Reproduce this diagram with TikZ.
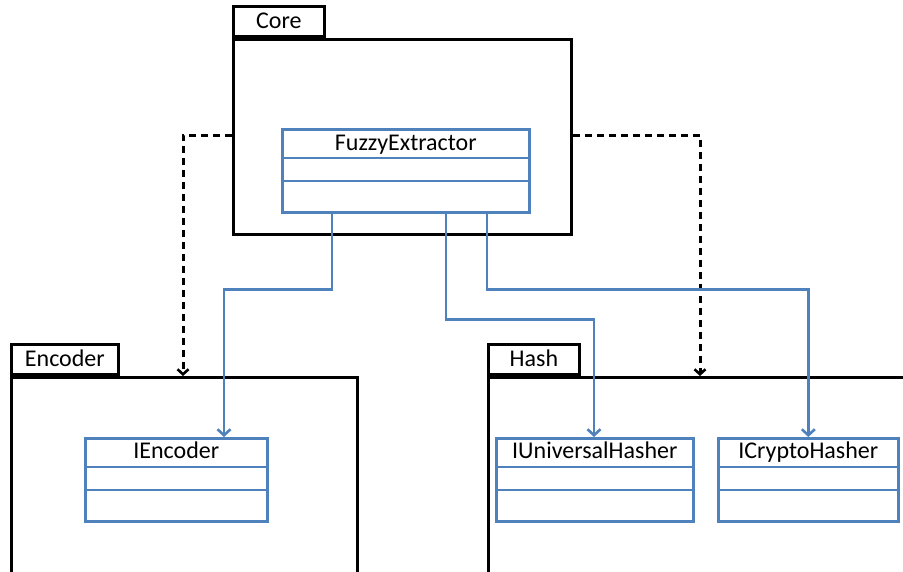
\documentclass[tikz,border=0pt]{standalone}
\usepackage{fontspec}
\setmainfont{Carlito}
\usetikzlibrary{arrows.meta,calc}
\definecolor{umlblue}{RGB}{79,129,189}
\tikzset{
	pkgtab/.style={draw=black, line width=2.8pt, anchor=south west, inner sep=0pt, minimum height=30pt, text height=17pt, text depth=4pt},
	pkgbody/.style={draw=black, line width=2.8pt, anchor=north west, inner sep=0pt},
	umlclass/.style={draw=umlblue, line width=2.6pt, fill=white, anchor=north west, inner sep=0pt, minimum height=83pt},
	classname/.style={anchor=base, inner sep=0pt},
	dep/.style={draw=black, line width=3pt, dash pattern=on 7pt off 5pt, -{Straight Barb[length=5pt,width=11pt,line width=2.6pt]}},
	assoc/.style={draw=umlblue, line width=2.8pt, -{Straight Barb[length=6pt,width=13pt,line width=2.6pt]}},
}
\newcommand{\compartments}[1]{
	\draw[umlblue, line width=2.6pt] ([yshift=-30pt]#1.north west) -- ([yshift=-30pt]#1.north east);
	\draw[umlblue, line width=2.6pt] ([yshift=-53pt]#1.north west) -- ([yshift=-53pt]#1.north east);
}
\begin{document}
\begin{tikzpicture}[x=1pt,y=-1pt]
	\fontsize{24}{28}\selectfont
	\useasboundingbox (0,0) rectangle (903,571);
	\clip (0,0) rectangle (903,571);
	% packages
	\node[pkgbody, minimum width=338pt, minimum height=195pt] (core) at (232,38) {};
	\node[pkgtab, minimum width=91pt] (coretab) at (core.north west) {Core};
	\node[pkgbody, minimum width=346pt, minimum height=230pt] (enc) at (10,376) {};
	\node[pkgtab, minimum width=107pt] (enctab) at (enc.north west) {Encoder};
	\node[pkgbody, minimum width=440pt, minimum height=230pt] (hash) at (487,376) {};
	\node[pkgtab, minimum width=91pt] (hashtab) at (hash.north west) {Hash};
	% classes
	\node[umlclass, minimum width=247pt] (fe) at (281,128) {};
	\node[classname] (fetxt) at ($(fe.north)+(0,-22pt)$) {FuzzyExtractor};
	\compartments{fe}
	\node[umlclass, minimum width=182pt] (ienc) at (84,437) {};
	\node[classname] (ienctxt) at ($(ienc.north)+(0,-21pt)$) {IEncoder};
	\compartments{ienc}
	\node[umlclass, minimum width=197pt] (iuh) at (495,437) {};
	\node[classname] (iuhtxt) at ($(iuh.north)+(0,-21pt)$) {IUniversalHasher};
	\compartments{iuh}
	\node[umlclass, minimum width=180pt] (ich) at (717,437) {};
	\node[classname] (ichtxt) at ($(ich.north)+(0,-21pt)$) {ICryptoHasher};
	\compartments{ich}
	% dependencies
	\draw[dep] ([yshift=-97pt]core.north west) -| ([xshift=173pt]enc.north west);
	\draw[dep] ([yshift=-97pt]core.north east) -| ([xshift=213pt]hash.north west);
	% associations
	\draw[assoc] ([xshift=51pt]fe.south west) -- ++(0,76) -| ([xshift=140pt]ienc.north west);
	\draw[assoc] ([xshift=165pt]fe.south west) -- ++(0,106) -| ([xshift=99pt]iuh.north west);
	\draw[assoc] ([xshift=206pt]fe.south west) -- ++(0,76) -| (ich.north);
\end{tikzpicture}
\end{document}
